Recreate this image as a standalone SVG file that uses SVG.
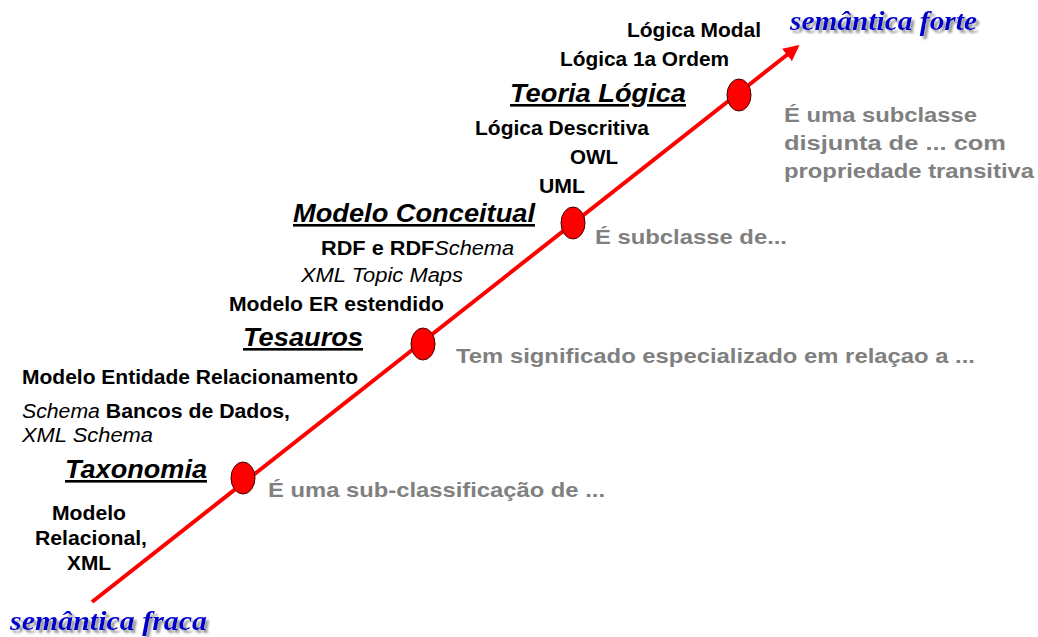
<svg xmlns="http://www.w3.org/2000/svg" width="1038" height="637" viewBox="0 0 1038 637">
<defs>
<marker id="arr" viewBox="0 0 10 10" refX="8" refY="5" markerWidth="4" markerHeight="4" orient="auto" markerUnits="strokeWidth">
<path d="M0,0 L10,5 L0,10 z" fill="#ff0000"/>
</marker>
<filter id="sh" x="-10%" y="-30%" width="130%" height="180%">
<feGaussianBlur in="SourceAlpha" stdDeviation="1.2"/>
<feOffset dx="3" dy="3" result="b"/>
<feFlood flood-color="#9a9a9a"/>
<feComposite in2="b" operator="in"/>
<feMerge><feMergeNode/><feMergeNode in="SourceGraphic"/></feMerge>
</filter>
</defs>
<style>
.b{font-family:"Liberation Sans",Arial,sans-serif;font-weight:bold;font-size:19.5px;fill:#000}
.h{font-family:"Liberation Sans",Arial,sans-serif;font-weight:bold;font-style:italic;font-size:26px;fill:#000;text-decoration:underline}
.g{font-family:"Liberation Sans",Arial,sans-serif;font-weight:bold;font-size:21px;fill:#808080}
.s{font-family:"Liberation Serif","Times New Roman",serif;font-weight:bold;font-style:italic;font-size:28px;fill:#0000cc}
.i{font-style:italic;font-weight:normal}
.dot{fill:#ff0000;stroke:#400000;stroke-width:1}
</style>
<rect width="1038" height="637" fill="#fff"/>
<g id="connectors">
<line x1="92" y1="602" x2="797" y2="47" stroke="#ff0000" stroke-width="4" marker-end="url(#arr)"/>
</g>
<g id="node-taxonomia">
<ellipse class="dot" cx="243" cy="478" rx="12" ry="16"/>
<text class="h" x="65" y="478" textLength="142" lengthAdjust="spacingAndGlyphs">Taxonomia</text>
<text class="g" x="268" y="497" textLength="337" lengthAdjust="spacingAndGlyphs">É uma sub-classificação de ...</text>
</g>
<g id="node-tesauros">
<ellipse class="dot" cx="423" cy="344" rx="12" ry="16"/>
<text class="h" x="243" y="346" textLength="120" lengthAdjust="spacingAndGlyphs">Tesauros</text>
<text class="g" x="456" y="363" textLength="519" lengthAdjust="spacingAndGlyphs">Tem significado especializado em relaçao a ...</text>
</g>
<g id="node-modelo-conceitual">
<ellipse class="dot" cx="573" cy="223" rx="12" ry="16"/>
<text class="h" x="293" y="222" textLength="242" lengthAdjust="spacingAndGlyphs">Modelo Conceitual</text>
<text class="g" x="595" y="244" textLength="192" lengthAdjust="spacingAndGlyphs">É subclasse de...</text>
</g>
<g id="node-teoria-logica">
<ellipse class="dot" cx="739" cy="95" rx="12" ry="16"/>
<text class="h" x="510" y="102" textLength="176" lengthAdjust="spacingAndGlyphs">Teoria Lógica</text>
<text class="g" x="784" y="122" textLength="193" lengthAdjust="spacingAndGlyphs">É uma subclasse</text>
<text class="g" x="784" y="150" textLength="222" lengthAdjust="spacingAndGlyphs">disjunta de ... com</text>
<text class="g" x="784" y="178" textLength="250" lengthAdjust="spacingAndGlyphs">propriedade transitiva</text>
</g>
<g id="labels">
<text class="b" x="627" y="37" textLength="134" lengthAdjust="spacingAndGlyphs">Lógica Modal</text>
<text class="b" x="560" y="66" textLength="169" lengthAdjust="spacingAndGlyphs">Lógica 1a Ordem</text>
<text class="b" x="475" y="135" textLength="174" lengthAdjust="spacingAndGlyphs">Lógica Descritiva</text>
<text class="b" x="570" y="164" textLength="48" lengthAdjust="spacingAndGlyphs">OWL</text>
<text class="b" x="539" y="193" textLength="46" lengthAdjust="spacingAndGlyphs">UML</text>
<text class="b" x="321" y="255" textLength="193" lengthAdjust="spacingAndGlyphs">RDF e RDF<tspan class="i">Schema</tspan></text>
<text class="b i" x="301" y="282" textLength="162" lengthAdjust="spacingAndGlyphs">XML Topic Maps</text>
<text class="b" x="229" y="311" textLength="215" lengthAdjust="spacingAndGlyphs">Modelo ER estendido</text>
<text class="b" x="22" y="384" textLength="336" lengthAdjust="spacingAndGlyphs">Modelo Entidade Relacionamento</text>
<text class="b" x="22" y="418" textLength="268" lengthAdjust="spacingAndGlyphs"><tspan class="i">Schema</tspan> Bancos de Dados,</text>
<text class="b i" x="22" y="442" textLength="131" lengthAdjust="spacingAndGlyphs">XML Schema</text>
<text class="b" x="52" y="520" textLength="74" lengthAdjust="spacingAndGlyphs">Modelo</text>
<text class="b" x="35" y="545" textLength="112" lengthAdjust="spacingAndGlyphs">Relacional,</text>
<text class="b" x="67" y="570" textLength="44" lengthAdjust="spacingAndGlyphs">XML</text>
<text class="s" x="10" y="630" textLength="197" lengthAdjust="spacingAndGlyphs" filter="url(#sh)">semântica fraca</text>
<text class="s" x="790" y="30" textLength="187" lengthAdjust="spacingAndGlyphs" filter="url(#sh)">semântica forte</text>
</g>
</svg>
